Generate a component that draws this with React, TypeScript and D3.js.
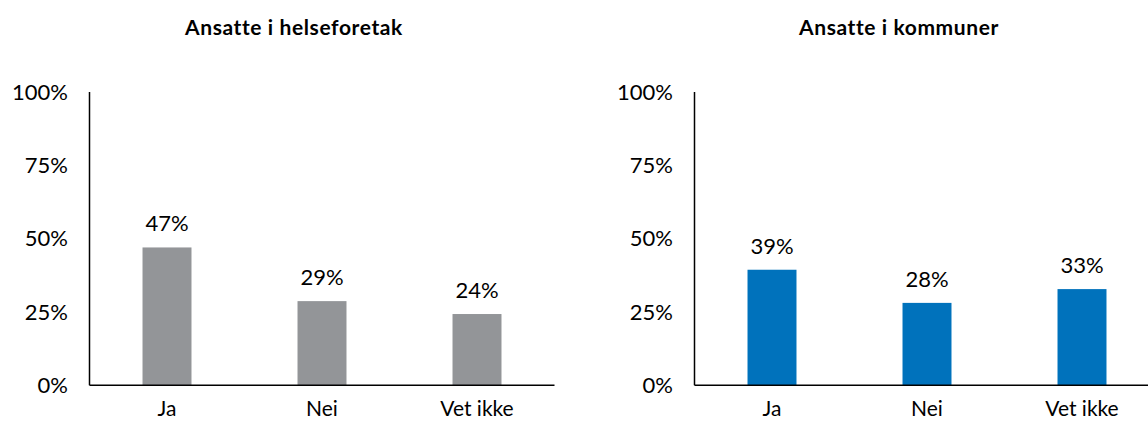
import React from "react";
import * as d3 from "d3";

const categories: string[] = ["Ja", "Nei", "Vet ikke"];
const helseforetakValues: number[] = [0.47, 0.287, 0.243];
const kommunerValues: number[] = [0.394, 0.281, 0.328];
const panelTitles: string[] = ["Ansatte i helseforetak", "Ansatte i kommuner"];
const yTicks: number[] = [0, 0.25, 0.5, 0.75, 1];
const panelColors: string[] = ["#939598", "#0072BC"];

const W = 1148;
const H = 421;
const FONT = "Lato, 'Noto Sans', sans-serif";

function Panel({ offsetX, title, values, color }: { offsetX: number; title: string; values: number[]; color: string }) {
  const x0 = 89.5;
  const x1 = 554.5;
  const yTop = 92;
  const yBase = 385.3;
  const x = d3.scaleBand<string>().domain(categories).range([x0, x1]).paddingInner(0.684).paddingOuter(0.342);
  const y = d3.scaleLinear().domain([0, 1]).range([yBase, yTop]);
  const fmt = d3.format(".0%");
  return (
    <g transform={`translate(${offsetX},0)`}>
      <text x={294} y={35} textAnchor="middle" fontFamily={FONT} fontWeight={700} fontSize={21} letterSpacing={0.6} fill="#000">
        {title}
      </text>
      {values.map((v, i) => (
        <g key={categories[i]}>
          <rect x={x(categories[i])} y={y(v)} width={x.bandwidth()} height={yBase - y(v)} fill={color} />
          <text x={(x(categories[i]) as number) + x.bandwidth() / 2} y={y(v) - 16} textAnchor="middle" fontFamily={FONT} fontSize={22} fill="#000">
            {fmt(v)}
          </text>
          <text x={(x(categories[i]) as number) + x.bandwidth() / 2} y={416} textAnchor="middle" fontFamily={FONT} fontSize={21} fill="#000">
            {categories[i]}
          </text>
        </g>
      ))}
      {yTicks.map((t) => (
        <text key={t} x={68} y={y(t)} dy="0.35em" textAnchor="end" fontFamily={FONT} fontSize={22} fill="#000">
          {fmt(t)}
        </text>
      ))}
      <line x1={x0} x2={x0} y1={yTop} y2={yBase} stroke="#000" strokeWidth={1.5} />
      <line x1={x0} x2={x1} y1={yBase} y2={yBase} stroke="#000" strokeWidth={1.5} />
    </g>
  );
}

export default function App() {
  return (
    <svg width={W} height={H} style={{ position: "absolute", left: 0, top: 0, background: "#fff" }}>
      <rect x={0} y={0} width={W} height={H} fill="#fff" />
      <Panel offsetX={0} title={panelTitles[0]} values={helseforetakValues} color={panelColors[0]} />
      <Panel offsetX={605} title={panelTitles[1]} values={kommunerValues} color={panelColors[1]} />
    </svg>
  );
}
